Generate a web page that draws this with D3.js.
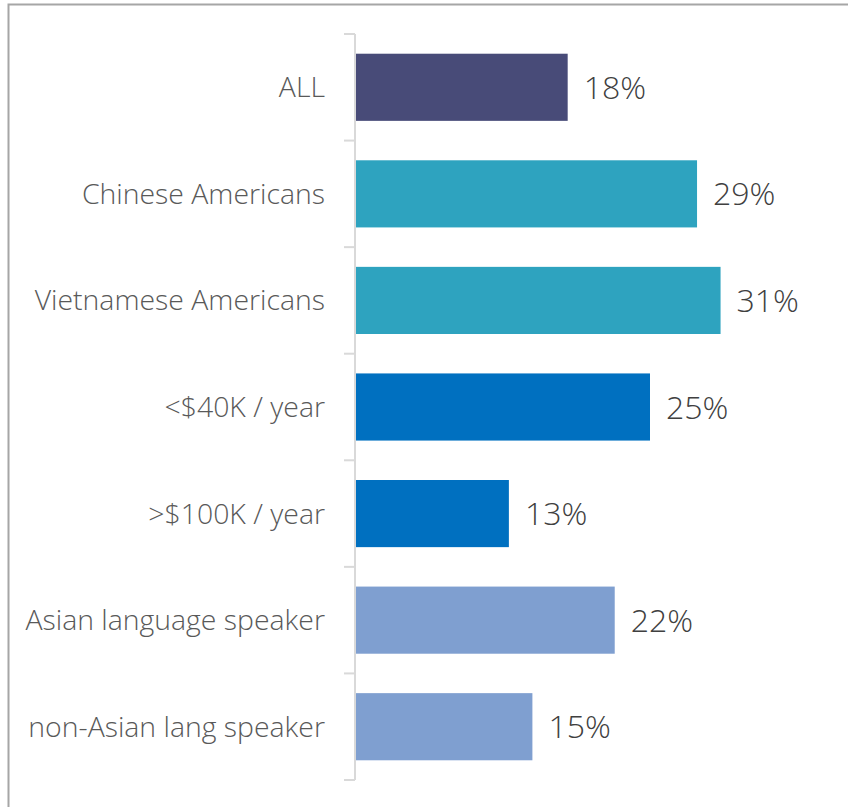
<!DOCTYPE html>
<html lang="en">
<head>
<meta charset="utf-8">
<title>Share by group</title>
<script src="https://d3js.org/d3.v7.min.js"></script>
<style>
  body { margin: 0; background: #fff; }
  .cat { font: 300 28.4px "Open Sans", sans-serif; fill: #595959; }
  .val { font: 300 32px "Open Sans", sans-serif; fill: #404040; }
</style>
</head>
<body>
<svg width="848" height="807"></svg>
<script>
// data
var categories = ["ALL", "Chinese Americans", "Vietnamese Americans", "<$40K / year",
                  ">$100K / year", "Asian language speaker", "non-Asian lang speaker"];
var values = [18, 29, 31, 25, 13, 22, 15];
var barColors = ["#484b78", "#2ea3bf", "#2ea3bf", "#0070c0", "#0070c0", "#7f9fd0", "#7f9fd0"];

var svg = d3.select("svg");

// frame (only top and left edges fall inside the picture)
svg.append("rect")
    .attr("x", 8.5).attr("y", 4.5)
    .attr("width", 900).attr("height", 900)
    .attr("fill", "none")
    .attr("stroke", "#a6a6a6")
    .attr("stroke-width", 2);

var x0 = 356;
var x = d3.scaleLinear().domain([0, 35]).range([x0, x0 + 35 * 11.76]);
var y = d3.scaleBand().domain(categories).range([34, 780]).paddingInner(0.37).paddingOuter(0.185);

var rows = categories.map(function(c, i) { return { name: c, value: values[i], color: barColors[i] }; });

svg.selectAll("rect.bar")
  .data(rows)
  .enter().append("rect")
    .attr("class", "bar")
    .attr("x", x(0))
    .attr("y", function(d) { return y(d.name); })
    .attr("width", function(d) { return x(d.value) - x(0); })
    .attr("height", y.bandwidth())
    .attr("fill", function(d) { return d.color; });

// axis line with ticks at band boundaries
var edges = d3.range(categories.length + 1).map(function(i) { return 34 + i * (746 / categories.length); });
var axis = svg.append("g").attr("stroke", "#d9d9d9").attr("stroke-width", 2);
axis.append("line").attr("x1", 355).attr("x2", 355).attr("y1", 34).attr("y2", 780);
axis.selectAll("line.tick")
  .data(edges)
  .enter().append("line")
    .attr("class", "tick")
    .attr("x1", 344).attr("x2", 355)
    .attr("y1", function(d) { return d; })
    .attr("y2", function(d) { return d; });

svg.selectAll("text.cat")
  .data(rows)
  .enter().append("text")
    .attr("class", "cat")
    .attr("x", 325)
    .attr("y", function(d) { return y(d.name) + y.bandwidth() / 2; })
    .attr("dy", "0.35em")
    .attr("text-anchor", "end")
    .text(function(d) { return d.name; });

svg.selectAll("text.val")
  .data(rows)
  .enter().append("text")
    .attr("class", "val")
    .attr("x", function(d) { return x(d.value) + 16; })
    .attr("y", function(d) { return y(d.name) + y.bandwidth() / 2; })
    .attr("dy", "0.36em")
    .text(function(d) { return d.value + "%"; });
</script>
</body>
</html>
